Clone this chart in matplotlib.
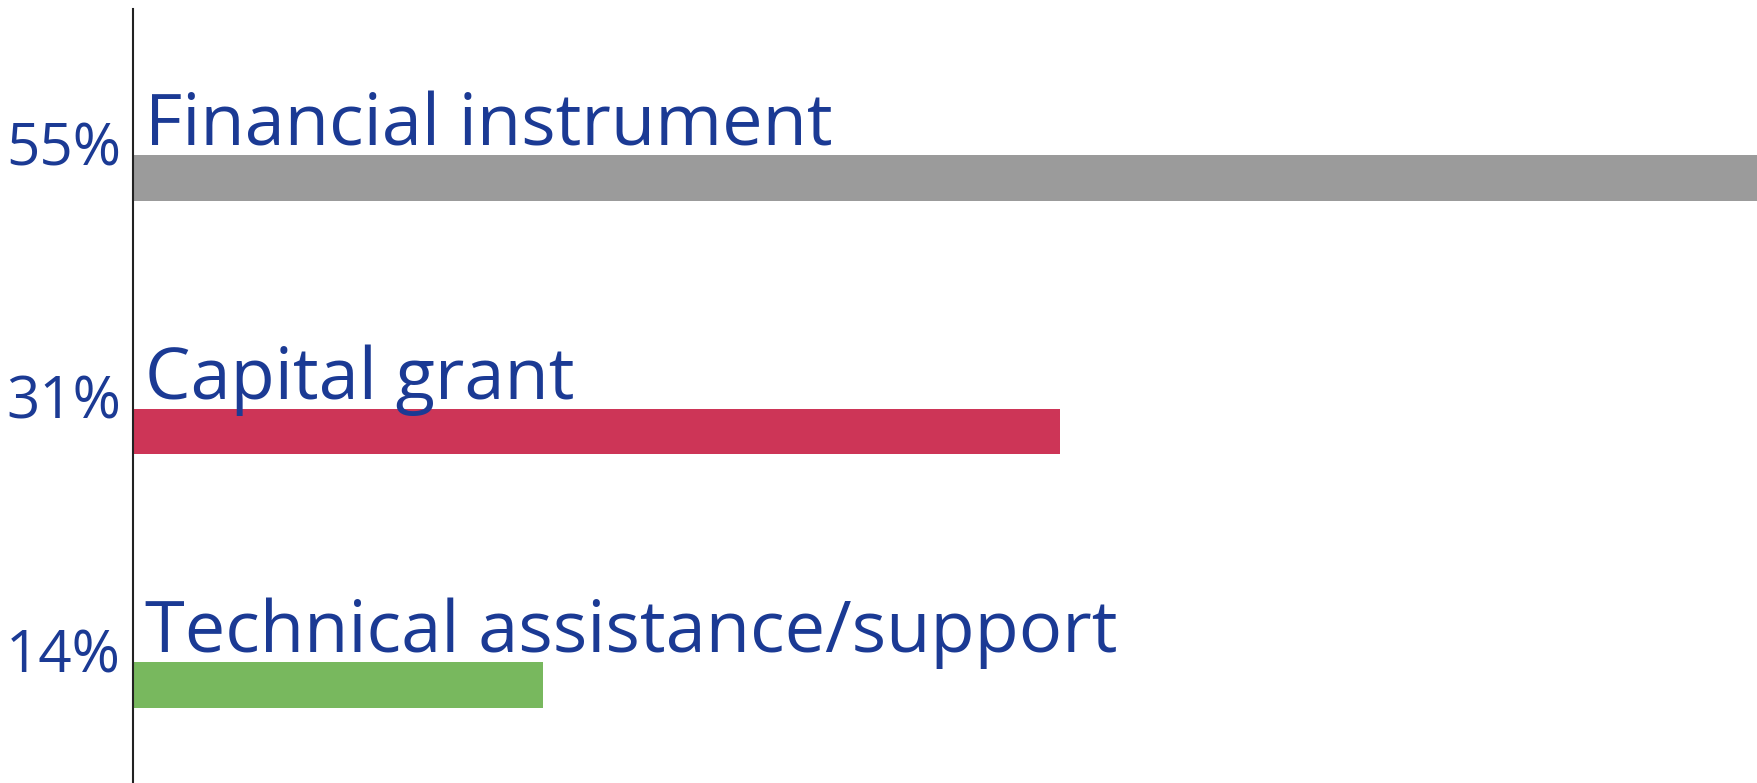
import matplotlib
matplotlib.use("Agg")
import matplotlib.pyplot as plt

categories = ["Financial instrument", "Capital grant", "Technical assistance/support"]
values = [55, 31.4, 13.9]
pct_labels = ["55%", "31%", "14%"]
colors = ["#9B9B9B", "#CD3557", "#78B85E"]
text_color = "#1B3A94"

plt.rcParams['font.family'] = ['Open Sans', 'DejaVu Sans']

W, H = 1757, 783
fig = plt.figure(figsize=(W / 100, H / 100), dpi=100)
ax = fig.add_axes([133 / W, 0, 1 - 133 / W, 1 - 9 / H])

ypos = list(range(len(categories)))
ax.barh(ypos, values, height=0.181, color=colors)
ax.set_xlim(0, 55)
ax.set_ylim(2.387, -0.667)

for y, cat, pl in zip(ypos, categories, pct_labels):
    ax.annotate(cat, xy=(0, y - 0.0905), xytext=(12, 10), textcoords='offset pixels',
                ha='left', va='baseline', fontsize=52, color=text_color)
    ax.annotate(pl, xy=(0, y), xytext=(-12, 28), textcoords='offset pixels',
                ha='right', va='center', fontsize=42, color=text_color)

for s in ['top', 'right', 'bottom']:
    ax.spines[s].set_visible(False)
ax.spines['left'].set_linewidth(1.5)
ax.spines['left'].set_color('#222222')
ax.set_xticks([])
ax.set_yticks([])

fig.savefig("out.png", dpi=100)
